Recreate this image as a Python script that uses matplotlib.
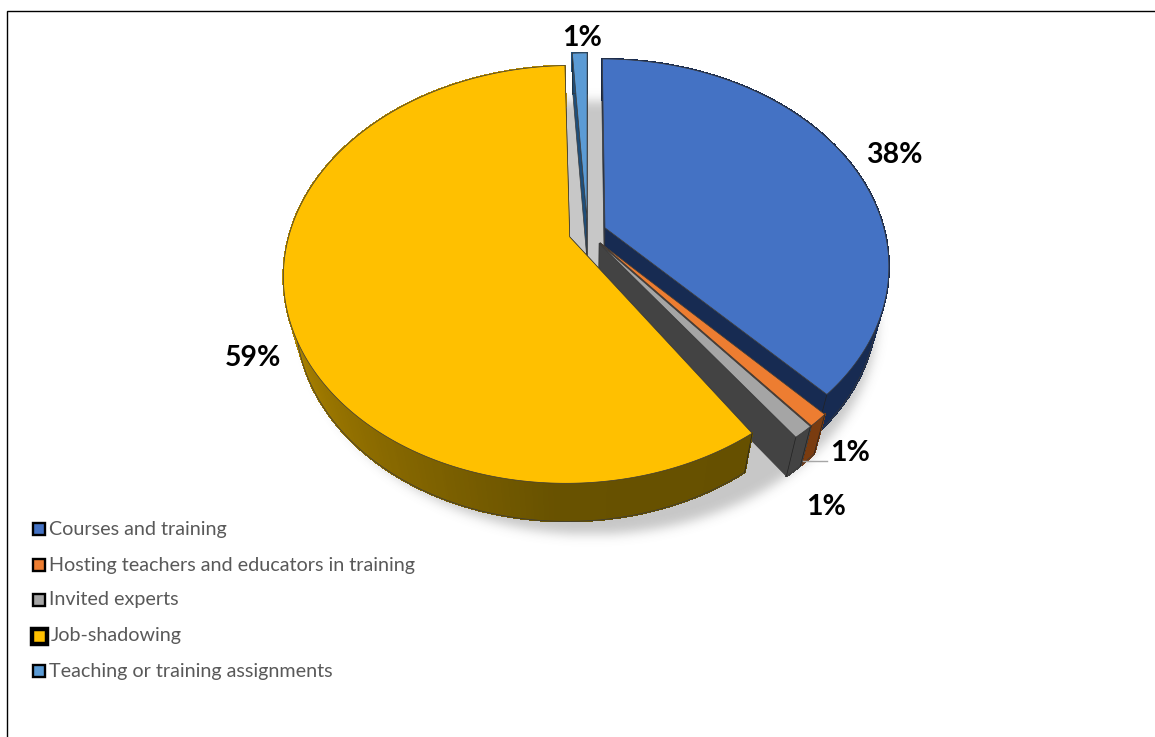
import numpy as np
import matplotlib
matplotlib.use("Agg")
import matplotlib.pyplot as plt
from matplotlib.path import Path
from matplotlib.patches import Polygon, Rectangle
from matplotlib.colors import LinearSegmentedColormap

categories = ["Courses and training", "Hosting teachers and educators in training",
              "Invited experts", "Job-shadowing", "Teaching or training assignments"]
shares = [38, 1, 1, 59, 1]

top_colors = ["#4472C4", "#ED7D31", "#A5A5A5", "#FFC000", "#5B9BD5"]
wall_colors = ["#172B52", "#7A3C10", "#434343", "#665000", "#1F4E79"]
label_xy = [(894, 155), (850, 453), (826, 507), (253, 358), (582, 38)]
legend_y = [528, 564, 599, 635, 670]
# Small rotation of a single exploded slice, in percent of the full turn
slice_turn = [0, 0, 0, 0.5, 0]

# Perspective of the tilted disc: unit circle in plane (x, y), z = -1 is the underside
X0, K, A, B, C = 587.6, 280.0, -159.0, 232.7, 0.179
D, E = 0.04, 52.0
EXPLODE = 0.067


def project(x, y, z=0.0):
    w = 1 + C * y - D * z
    return X0 + K * x / w, (A * y + B - E * z) / w


def arc_xy(p0, p1, off, n):
    a = 2 * np.pi * np.linspace(p0, p1, n) / 100
    return off[0] + np.sin(a), off[1] + np.cos(a)


def poly(ax, xs, ys, fc, zorder, ec="#3a3a3a", lw=0.5, aa=True):
    ax.add_patch(Polygon(np.column_stack([xs, ys]), closed=True, fc=fc, ec=ec, lw=lw,
                         joinstyle="round", zorder=zorder, antialiased=aa))


fig = plt.figure(figsize=(11.55, 7.37), dpi=100)
ax = fig.add_axes([0, 0, 1, 1])
ax.set_xlim(0, 1155)
ax.set_ylim(737, 0)
ax.axis("off")
plt.rcParams["font.family"] = ["Lato", "DejaVu Sans"]

# Soft ground shadow under the whole disc
theta = np.linspace(0, 2 * np.pi, 361)
ring = np.column_stack(project(1.05 * np.sin(theta) + 0.012, 1.05 * np.cos(theta), -1.12))
gx, gy = np.meshgrid(np.arange(1155) + 0.5, np.arange(737) + 0.5)
mask = Path(ring).contains_points(np.column_stack([gx.ravel(), gy.ravel()])).reshape(gx.shape).astype(float)
kernel = np.exp(-0.5 * (np.arange(-18, 19) / 5.5) ** 2)
kernel /= kernel.sum()
mask = np.apply_along_axis(lambda r: np.convolve(r, kernel, mode="same"), 0, mask)
mask = np.apply_along_axis(lambda r: np.convolve(r, kernel, mode="same"), 1, mask)
rgba = np.zeros(mask.shape + (4,))
rgba[..., :3] = 0.42
rgba[..., 3] = mask * 0.38
ax.imshow(rgba, extent=(0, 1155, 737, 0), zorder=1, interpolation="bilinear", aspect="auto")

# Rim shading for the large slice, from its front-right end round to the back-left
rim_map = LinearSegmentedColormap.from_list(
    "rim", [(0.0, "#665000"), (0.17, "#685200"), (0.33, "#8A6A00"), (0.55, "#B88C00"), (1.0, "#B88C00")])

edges = np.concatenate([[0], np.cumsum(shares)])
# Drawn from the back of the disc to the front, with the large slice last
order = [4, 0, 1, 2, 3]
for rank, i in enumerate(order):
    p0, p1 = edges[i] + slice_turn[i], edges[i + 1] + slice_turn[i]
    mid = 2 * np.pi * (p0 + p1) / 200
    off = (EXPLODE * np.sin(mid), EXPLODE * np.cos(mid))
    base = 10 + 10 * rank
    n = max(12, int((p1 - p0) * 8))
    ax_, ay_ = arc_xy(p0, p1, off, n)

    # radial walls from the apex out to both ends of the arc
    for end in (0, -1):
        wx = np.array([off[0], ax_[end], ax_[end], off[0]])
        wy = np.array([off[1], ay_[end], ay_[end], off[1]])
        wz = np.array([0.0, 0.0, -1.0, -1.0])
        sx, sy = project(wx, wy, wz)
        poly(ax, sx, sy, wall_colors[i], base)

    # outer rim, split into narrow quads so it can carry shading
    tx, ty = project(ax_, ay_, 0.0)
    bx, by = project(ax_, ay_, -1.0)
    for j in range(n - 1):
        col = wall_colors[i]
        if i == 3:
            col = rim_map(j / (n - 2))
        poly(ax, [tx[j], tx[j + 1], bx[j + 1], bx[j]], [ty[j], ty[j + 1], by[j + 1], by[j]],
             col, base + 2, ec=col, lw=0.8, aa=False)
    ax.plot(bx, by, color="#3a3a3a", lw=0.5, zorder=base + 3)
    for end in (0, -1):
        ax.plot([tx[end], bx[end]], [ty[end], by[end]], color="#222222", lw=0.5, zorder=base + 3)

    # top face
    fx, fy = project(np.r_[off[0], ax_], np.r_[off[1], ay_], 0.0)
    poly(ax, fx, fy, top_colors[i], base + 4)

    ax.text(*label_xy[i], f"{shares[i]}%", ha="center", va="center", fontsize=20.5,
            fontweight="bold", color="black", zorder=200)

# Leader from the small slice to its label
ax.plot([803, 827], [461, 461], color="#a6a6a6", lw=1.0, zorder=190)

# Legend
for i, (name, y) in enumerate(zip(categories, legend_y)):
    heavy = name == "Job-shadowing"
    half, lw = (7.5, 3.2) if heavy else (6.2, 1.7)
    ax.add_patch(Rectangle((39 - half, y + 1 - half), 2 * half, 2 * half, fc=top_colors[i],
                           ec="black", lw=lw, zorder=150))
    ax.text(51 if heavy else 49, y + 1, name, ha="left", va="center", fontsize=14.2,
            color="#595959", zorder=150)

# Frame on the top and left only
ax.plot([6.5, 6.5, 1155], [737, 10.5, 10.5], color="black", lw=1.0, zorder=210,
        solid_joinstyle="miter")

fig.savefig("out.png", dpi=100)
